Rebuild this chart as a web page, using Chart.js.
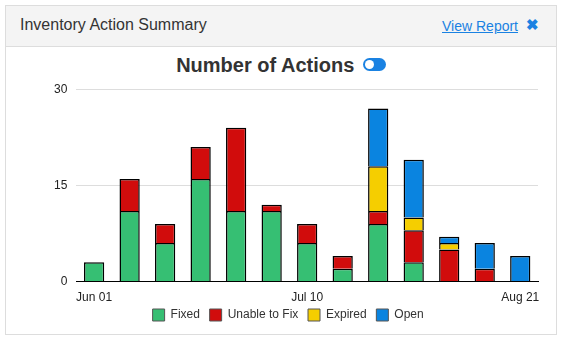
<!DOCTYPE html>
<html>
<head>
<meta charset="utf-8">
<script src="https://cdn.jsdelivr.net/npm/chart.js@4"></script>
<style>
  body { margin: 0; background: #fff; font-family: "Liberation Sans", Arial, sans-serif; }
  .card { position: absolute; left: 5px; top: 5px; width: 550px; height: 328px; border: 1px solid #ddd; background: #fff; }
  .head { height: 40px; background: #f4f4f4; border-bottom: 1px solid #ddd; position: relative; }
  .head .title { position: absolute; left: 14px; top: 10px; font-size: 16px; color: #333; }
  .head a { position: absolute; left: 436px; top: 12px; font-size: 14px; color: #1a82e2; text-decoration: underline; }
  .head .x { position: absolute; left: 520px; top: 10px; font-size: 15px; color: #1a82e2; font-weight: bold; }
  .ctitle { position: absolute; left: 0; top: 48px; width: 100%; text-align: center; font-size: 20px; font-weight: bold; color: #333; }
  .tog { display: inline-block; width: 23px; height: 13px; border-radius: 7px; background: #1a82e2; position: relative; vertical-align: 1px; margin-left: 3px; }
  .tog::after { content: ""; position: absolute; left: 2px; top: 2px; width: 9px; height: 9px; border-radius: 5px; background: #fff; }
  .wrap { position: absolute; left: 0; top: 67px; width: 550px; height: 258px; }
</style>
</head>
<body>
<div class="card">
  <div class="head">
    <span class="title">Inventory Action Summary</span>
    <a>View Report</a>
    <span class="x">&#x2716;</span>
  </div>
  <div class="ctitle">Number of Actions <span class="tog"></span></div>
  <div class="wrap"><canvas id="actionsChart"></canvas></div>
</div>
<script>
// weekly buckets, only a few labels shown on the axis
const weeks = ['Jun 01', '', '', '', '', '', 'Jul 10', '', '', '', '', '', 'Aug 21'];
const fixed = [3, 11, 6, 16, 11, 11, 6, 2, 9, 3, 0, 0, 0];
const unableToFix = [0, 5, 3, 5, 13, 1, 3, 2, 2, 5, 5, 2, 0];
const expired = [0, 0, 0, 0, 0, 0, 0, 0, 7, 2, 1, 0, 0];
const open = [0, 0, 0, 0, 0, 0, 0, 0, 9, 9, 1, 4, 4];
const yTicks = [0, 15, 30];

Chart.defaults.font.family = '"Liberation Sans", Arial, sans-serif';

function series(label, data, color) {
    return {
        label: label,
        data: data,
        backgroundColor: color,
        borderColor: '#000',
        borderWidth: 1.5,
        barPercentage: 0.57,
        categoryPercentage: 1
    };
}

new Chart(document.getElementById('actionsChart'), {
    type: 'bar',
    data: {
        labels: weeks,
        datasets: [
            series('Fixed', fixed, '#36bf73'),
            series('Unable to Fix', unableToFix, '#d10c0c'),
            series('Expired', expired, '#f5ce00'),
            series('Open', open, '#0a84e0')
        ]
    },
    options: {
        responsive: true,
        maintainAspectRatio: false,
        animation: false,
        layout: { padding: { left: 39, right: 18, top: 5, bottom: 0 } },
        scales: {
            x: {
                stacked: true,
                grid: { display: false },
                border: { color: '#000', width: 1 },
                ticks: { color: '#222', font: { size: 12 }, autoSkip: false, maxRotation: 0, padding: 1 }
            },
            y: {
                stacked: true,
                min: 0,
                max: 30,
                afterBuildTicks: axis => { axis.ticks = yTicks.map(v => ({ value: v })); },
                grid: { color: '#ddd', drawTicks: false },
                border: { display: false },
                ticks: { color: '#222', font: { size: 12 }, padding: 9 }
            }
        },
        plugins: {
            legend: {
                position: 'bottom',
                labels: {
                    color: '#333',
                    font: { size: 12 },
                    boxWidth: 12,
                    boxHeight: 12,
                    padding: 3,
                    // trailing spaces widen the gap between items without a taller legend
                    generateLabels: chart => Chart.defaults.plugins.legend.labels.generateLabels(chart)
                        .map(l => Object.assign(l, { text: l.text + '  ', strokeStyle: '#555', lineWidth: 1 }))
                }
            },
            tooltip: { enabled: false }
        }
    }
});
</script>
</body>
</html>
